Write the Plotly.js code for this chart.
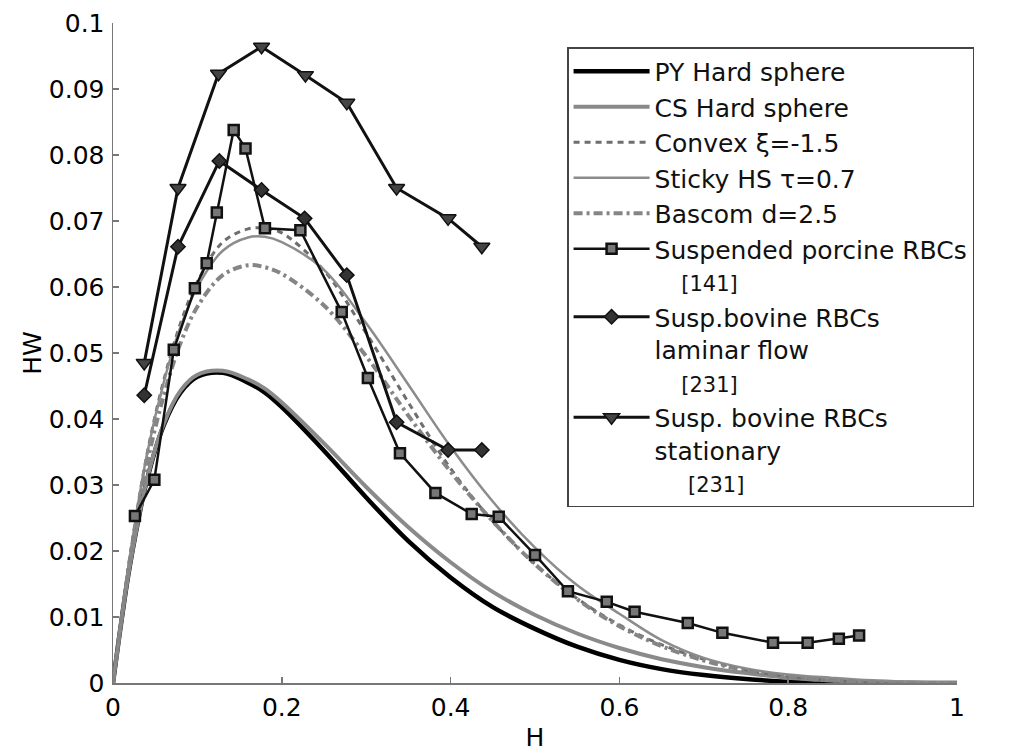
<!DOCTYPE html>
<html>
<head>
<meta charset="utf-8">
<script src="https://cdn.plot.ly/plotly-3.0.1.min.js"></script>
<style>html,body{margin:0;padding:0;background:#fff;}#chart{width:1018px;height:752px;}</style>
</head>
<body>
<div id="chart"></div>
<script>
// ---- data ----
const curveH = [0, 0.01, 0.02, 0.04, 0.06, 0.08, 0.10, 0.13, 0.16, 0.18, 0.20, 0.25, 0.30, 0.35, 0.40, 0.45, 0.50, 0.55, 0.60, 0.65, 0.70, 0.75, 0.80, 0.85, 0.90, 1.00];
const pyHW     = [0, 0.0094, 0.0178, 0.0306, 0.0390, 0.0440, 0.0464, 0.0470, 0.0455, 0.0440, 0.0418, 0.0352, 0.0281, 0.0215, 0.0160, 0.0115, 0.0082, 0.0055, 0.0035, 0.0021, 0.0012, 0.0006, 0.0002, 0.0001, 0, 0];
const csHW     = [0, 0.0094, 0.0178, 0.0307, 0.0392, 0.0443, 0.0467, 0.0473, 0.0460, 0.0446, 0.0425, 0.0363, 0.0297, 0.0236, 0.0183, 0.0138, 0.0103, 0.0075, 0.0053, 0.0036, 0.0024, 0.0015, 0.0008, 0.0004, 0.0001, 0];
const convexHW = [0, 0.0098, 0.0192, 0.0345, 0.0458, 0.0545, 0.0608, 0.0668, 0.0688, 0.0689, 0.0682, 0.0625, 0.0530, 0.0425, 0.0325, 0.0245, 0.0180, 0.0128, 0.0088, 0.0058, 0.0036, 0.0020, 0.0010, 0.0004, 0.0001, 0];
const stickyHW = [0, 0.0098, 0.0192, 0.0345, 0.0455, 0.0540, 0.0600, 0.0655, 0.0675, 0.0676, 0.0668, 0.0626, 0.0545, 0.0452, 0.0358, 0.0275, 0.0205, 0.0148, 0.0105, 0.0065, 0.0038, 0.0022, 0.0013, 0.0008, 0.0004, 0];
const bascomHW = [0, 0.0096, 0.0185, 0.0330, 0.0435, 0.0515, 0.0570, 0.0618, 0.0633, 0.0630, 0.0620, 0.0572, 0.0495, 0.0405, 0.0320, 0.0245, 0.0180, 0.0127, 0.0086, 0.0056, 0.0034, 0.0019, 0.0009, 0.0004, 0.0001, 0];

const porcineH  = [0.026, 0.049, 0.072, 0.097, 0.111, 0.123, 0.143, 0.157, 0.180, 0.222, 0.271, 0.302, 0.340, 0.382, 0.425, 0.457, 0.500, 0.539, 0.585, 0.618, 0.681, 0.722, 0.782, 0.823, 0.860, 0.884];
const porcineHW = [0.0253, 0.0308, 0.0505, 0.0598, 0.0636, 0.0713, 0.0838, 0.0810, 0.0689, 0.0686, 0.0562, 0.0462, 0.0348, 0.0288, 0.0256, 0.0252, 0.0194, 0.0139, 0.0123, 0.0108, 0.0091, 0.0076, 0.0061, 0.0061, 0.0067, 0.0072];

const laminarH  = [0.037, 0.077, 0.126, 0.176, 0.227, 0.277, 0.336, 0.397, 0.437];
const laminarHW = [0.0436, 0.0661, 0.0791, 0.0747, 0.0704, 0.0618, 0.0395, 0.0353, 0.0353];

const statH  = [0.037, 0.077, 0.125, 0.176, 0.228, 0.277, 0.336, 0.397, 0.437];
const statHW = [0.0485, 0.0750, 0.0923, 0.0964, 0.0921, 0.0879, 0.0750, 0.0704, 0.0661];

const xTickVals = [0, 0.2, 0.4, 0.6, 0.8, 1];
const xTickText = ["0", "0.2", "0.4", "0.6", "0.8", "1"];
const yTickVals = [0, 0.01, 0.02, 0.03, 0.04, 0.05, 0.06, 0.07, 0.08, 0.09, 0.1];
const yTickText = ["0", "0.01", "0.02", "0.03", "0.04", "0.05", "0.06", "0.07", "0.08", "0.09", "0.1"];

const nb = n => "\u00a0".repeat(n);
const ref = (txt, n) => "<span style=\"font-size:21px\">" + nb(n) + txt + "</span>";
const names = [
  "PY Hard sphere",
  "CS Hard sphere",
  "Convex \u03BE=-1.5",
  "Sticky HS \u03C4=0.7",
  "Bascom d=2.5",
  "Suspended porcine RBCs<br>" + ref("[141]", 4),
  "Susp.bovine RBCs<br>laminar flow<br>" + ref("[231]", 4),
  "Susp. bovine RBCs<br>stationary<br>" + ref("[231]", 5)
];

const traces = [
  {x: curveH, y: pyHW, name: names[0], mode: "lines", line: {color: "#000000", width: 4.5, shape: "spline"}},
  {x: curveH, y: csHW, name: names[1], mode: "lines", line: {color: "#8a8a8a", width: 4, shape: "spline"}},
  {x: curveH, y: convexHW, name: names[2], mode: "lines", line: {color: "#6e6e6e", width: 3, dash: "6px,5px", shape: "spline"}},
  {x: curveH, y: stickyHW, name: names[3], mode: "lines", line: {color: "#8c8c8c", width: 2.5, shape: "spline"}},
  {x: curveH, y: bascomHW, name: names[4], mode: "lines", line: {color: "#858585", width: 4, dash: "9px,4px,3px,4px", shape: "spline"}},
  {x: porcineH, y: porcineHW, name: names[5], mode: "lines+markers",
   line: {color: "#111111", width: 2.5},
   marker: {symbol: "square", size: 10, color: "#777777", line: {color: "#111111", width: 2.5}}},
  {x: laminarH, y: laminarHW, name: names[6], mode: "lines+markers",
   line: {color: "#111111", width: 3},
   marker: {symbol: "diamond", size: 11, color: "#333333", line: {color: "#111111", width: 1.5}}},
  {x: statH, y: statHW, name: names[7], mode: "lines+markers",
   line: {color: "#111111", width: 3},
   marker: {symbol: "triangle-down", size: 14, color: "#444444", line: {color: "#111111", width: 1.5}}}
];

const fam = "DejaVu Sans, Liberation Sans, Arial, sans-serif";
const axisFont = {family: fam, size: 25, color: "#000"};

const layout = {
  width: 1018, height: 752,
  margin: {l: 113, r: 61, t: 23, b: 69},
  paper_bgcolor: "#ffffff", plot_bgcolor: "#ffffff",
  font: axisFont,
  showlegend: true,
  legend: {
    x: 0.538, y: 0.9636, xanchor: "left", yanchor: "top",
    bgcolor: "#ffffff", bordercolor: "#444444", borderwidth: 1.5,
    font: {family: fam, size: 25, color: "#111"},
    valign: "top", itemwidth: 76,
    traceorder: "normal"
  },
  xaxis: {
    range: [0, 1], tickvals: xTickVals, ticktext: xTickText,
    showgrid: false, zeroline: false, showline: true, linecolor: "#777777", linewidth: 1.5,
    ticks: "inside", ticklen: 6, tickcolor: "#777777", tickwidth: 1.5,
    tickfont: axisFont, ticklabelstandoff: 1,
    title: {text: "H", font: axisFont, standoff: 9}
  },
  yaxis: {
    range: [0, 0.1], tickvals: yTickVals, ticktext: yTickText,
    showgrid: false, zeroline: false, showline: true, linecolor: "#777777", linewidth: 1.5,
    ticks: "inside", ticklen: 6, tickcolor: "#777777", tickwidth: 1.5,
    tickfont: axisFont, ticklabelstandoff: 2,
    title: {text: "HW", font: axisFont, standoff: 0}
  }
};

Plotly.newPlot("chart", traces, layout, {displayModeBar: false, staticPlot: true});
</script>
</body>
</html>
